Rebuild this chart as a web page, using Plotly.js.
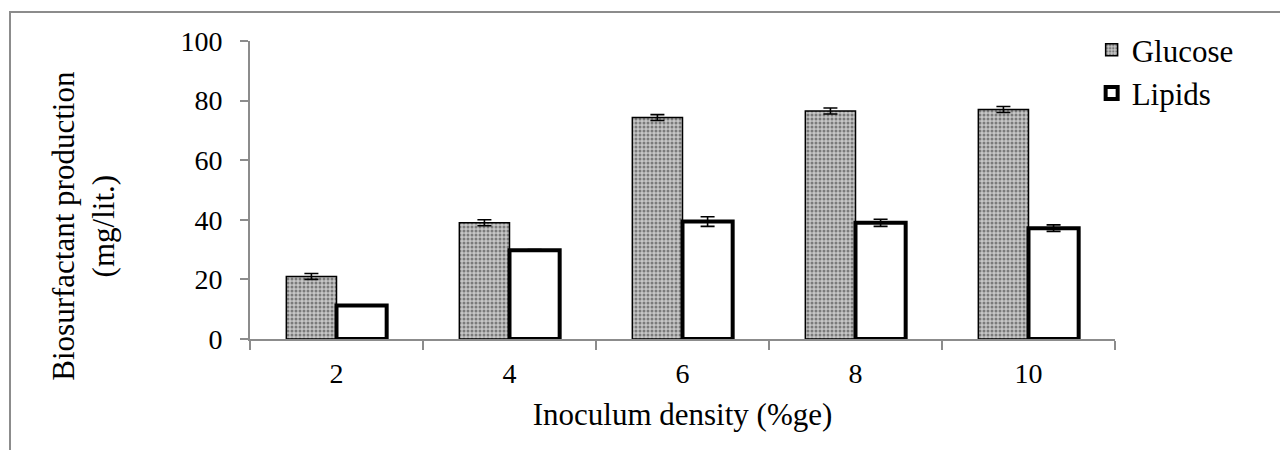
<!DOCTYPE html>
<html>
<head>
<meta charset="utf-8">
<script src="https://cdn.plot.ly/plotly-3.0.1.min.js"></script>
<style>
  html, body { margin: 0; padding: 0; background: #fff; }
  #frame { position: absolute; left: 9px; top: 11px; width: 1280px; height: 450px; border-left: 2px solid #8c8c8c; border-top: 2px solid #8c8c8c; pointer-events: none; }
  #chart { position: absolute; left: 0; top: 0; width: 1280px; height: 450px; }
  #chart text { font-family: "Liberation Serif", "Times New Roman", serif !important; }
</style>
</head>
<body>
<div id="chart"></div>
<div id="frame"></div>
<script>
const categories = ['2', '4', '6', '8', '10'];
const glucose = [21, 39, 74.3, 76.5, 77];
const glucoseErr = [1, 1, 1, 1, 1];
const lipids = [11.2, 29.8, 39.4, 39, 37.2];
const lipidsErr = [0.2, 0.2, 1.6, 1.2, 1.1];
const yTitle = 'Biosurfactant production<br>(mg/lit.)';
const xTitle = 'Inoculum density (%ge)';

const font = '"Liberation Serif", "Times New Roman", serif';

const traces = [
  {
    type: 'bar', name: 'Glucose', x: categories, y: glucose,
    error_y: { type: 'data', array: glucoseErr, visible: true, color: '#000', thickness: 1.6, width: 7 },
    marker: {
      color: '#b4b4b4',
      line: { color: '#000', width: 1.5 },
      pattern: { shape: '.', bgcolor: '#c6c6c6', fgcolor: '#7a7a7a', size: 4, solidity: 0.45, fillmode: 'replace' }
    }
  },
  {
    type: 'bar', name: 'Lipids', x: categories, y: lipids,
    error_y: { type: 'data', array: lipidsErr, visible: true, color: '#000', thickness: 1.6, width: 7 },
    marker: { color: '#ffffff', line: { color: '#000', width: 4 } }
  }
];

const layout = {
  width: 1280, height: 450,
  margin: { l: 250, r: 165, t: 41, b: 111, pad: 0 },
  paper_bgcolor: 'rgba(0,0,0,0)', plot_bgcolor: 'rgba(0,0,0,0)',
  font: { family: font, size: 28, color: '#000' },
  barmode: 'group', bargap: 0.42, bargroupgap: 0,
  showlegend: true,
  legend: { x: 0.973, y: 1.06, xanchor: 'left', yanchor: 'top', font: { family: font, size: 31, color: '#000' }, bgcolor: 'rgba(0,0,0,0)', itemwidth: 30 },
  xaxis: {
    type: 'category', showline: true, linecolor: '#8c8c8c', linewidth: 2,
    ticks: 'outside', tickson: 'boundaries', ticklen: 9, tickcolor: '#8c8c8c', tickwidth: 2,
    showgrid: false, zeroline: false, ticklabelstandoff: 8,
    tickfont: { family: font, size: 28, color: '#000' },
    title: { text: xTitle, font: { family: font, size: 31 }, standoff: 16 }
  },
  yaxis: {
    range: [0, 100], tickvals: [0, 20, 40, 60, 80, 100], showline: true, linecolor: '#8c8c8c', linewidth: 2,
    ticks: 'outside', ticklen: 8, tickcolor: '#8c8c8c', tickwidth: 2,
    showgrid: false, zeroline: false, ticklabelstandoff: 12,
    tickfont: { family: font, size: 28, color: '#000' }
  },
  annotations: [{
    text: yTitle, textangle: -90, showarrow: false,
    xref: 'paper', yref: 'paper', x: -0.192, y: 0.38, xanchor: 'center', yanchor: 'middle',
    font: { family: font, size: 31, color: '#000' }
  }]
};

Plotly.newPlot('chart', traces, layout, { displayModeBar: false, staticPlot: true });
</script>
</body>
</html>
